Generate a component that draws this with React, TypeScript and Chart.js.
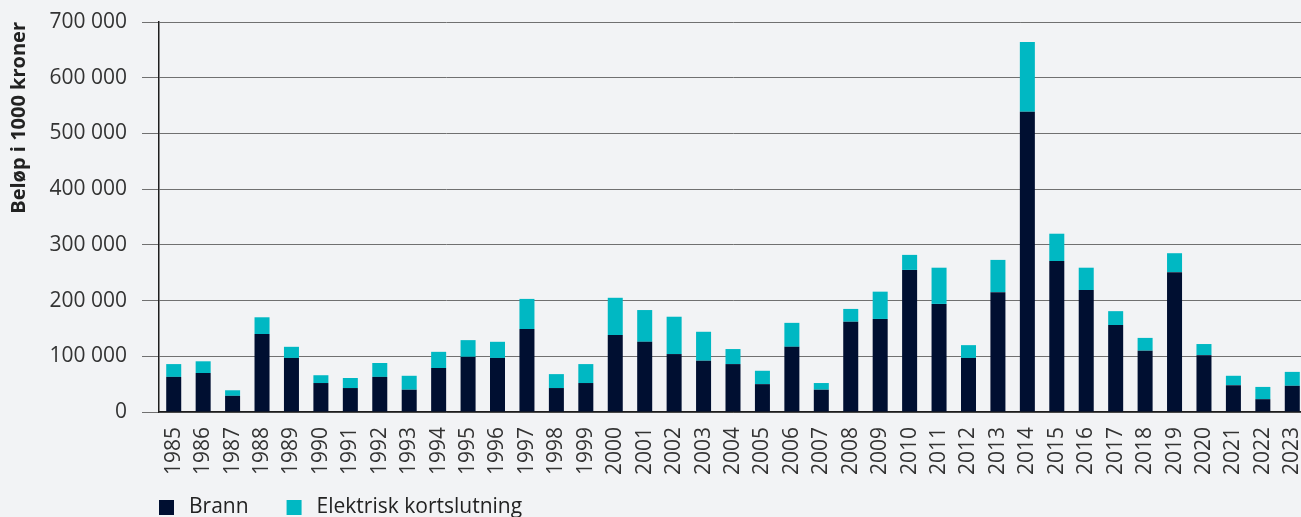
import React, { useEffect, useRef } from "react";
import { Chart, registerables } from "chart.js";

Chart.register(...registerables);

const years = [
  "1985", "1986", "1987", "1988", "1989", "1990", "1991", "1992", "1993", "1994",
  "1995", "1996", "1997", "1998", "1999", "2000", "2001", "2002", "2003", "2004",
  "2005", "2006", "2007", "2008", "2009", "2010", "2011", "2012", "2013", "2014",
  "2015", "2016", "2017", "2018", "2019", "2020", "2021", "2022", "2023",
];

// Beløp i 1000 kroner
const brann = [
  63000, 70000, 29000, 140000, 97000, 52000, 43000, 63000, 40000, 79000,
  99000, 97000, 149000, 43000, 52000, 138000, 126000, 104000, 92000, 86000,
  50000, 117000, 40000, 162000, 167000, 255000, 194000, 97000, 215000, 539000,
  271000, 219000, 156000, 110000, 251000, 102000, 48000, 23000, 47000,
];

const elektriskKortslutning = [
  23000, 21000, 10000, 30000, 20000, 14000, 18000, 25000, 25000, 29000,
  30000, 29000, 54000, 25000, 34000, 67000, 57000, 67000, 52000, 27000,
  24000, 43000, 12000, 23000, 49000, 27000, 65000, 23000, 58000, 125000,
  49000, 40000, 25000, 23000, 34000, 20000, 17000, 22000, 25000,
];

const seriesLabels = ["Brann", "Elektrisk kortslutning"];
const yTitle = "Beløp i 1000 kroner";
const yMin = 0;
const yMax = 700000;
const yStep = 100000;

const FONT = "'Open Sans', 'Noto Sans', sans-serif";

const formatThousands = (v: number) =>
  String(v).replace(/\B(?=(\d{3})+(?!\d))/g, " ");

const legendPlugin = {
  id: "customLegend",
  afterDraw(chart: any) {
    const ctx = chart.ctx;
    let x = chart.chartArea.left;
    const y = 500;
    ctx.save();
    ctx.font = `21px ${FONT}`;
    ctx.textBaseline = "middle";
    ctx.textAlign = "left";
    chart.data.datasets.forEach((ds: any) => {
      ctx.fillStyle = ds.backgroundColor;
      ctx.fillRect(x, y, 15, 15);
      ctx.fillStyle = "#222";
      ctx.fillText(ds.label, x + 30, y + 7.5);
      x += 30 + ctx.measureText(ds.label).width + 38;
    });
    ctx.restore();
  },
};

export default function App() {
  const ref = useRef<HTMLCanvasElement | null>(null);

  useEffect(() => {
    if (!ref.current) return;
    Chart.defaults.font.family = FONT;
    const chart = new Chart(ref.current, {
      type: "bar",
      data: {
        labels: years,
        datasets: [
          {
            label: seriesLabels[0],
            data: brann,
            backgroundColor: "#000f31",
            borderWidth: 0,
            barPercentage: 0.51,
            categoryPercentage: 1,
          },
          {
            label: seriesLabels[1],
            data: elektriskKortslutning,
            backgroundColor: "#00b8c3",
            borderWidth: 0,
            barPercentage: 0.51,
            categoryPercentage: 1,
          },
        ],
      },
      options: {
        animation: false,
        responsive: false,
        maintainAspectRatio: false,
        layout: { padding: { top: 22, right: 3, bottom: 0, left: 0 } },
        plugins: {
          legend: { display: false },
          tooltip: { enabled: false },
        },
        scales: {
          x: {
            stacked: true,
            grid: { display: false, drawTicks: false },
            border: { display: true, color: "#1e1e1e", width: 1.5 },
            ticks: {
              autoSkip: false,
              minRotation: 90,
              maxRotation: 90,
              padding: 15,
              color: "#333",
              font: { size: 21 },
            },
            afterFit: (s: any) => {
              s.height = 105;
              s.paddingLeft = 0;
              s.paddingRight = 0;
            },
          },
          y: {
            stacked: true,
            min: yMin,
            max: yMax,
            ticks: {
              stepSize: yStep,
              padding: 15,
              color: "#333",
              font: { size: 21 },
              callback: (v: any) => formatThousands(Number(v)),
            },
            grid: {
              color: "#707070",
              lineWidth: 1,
              tickLength: 17,
              drawTicks: true,
            },
            border: { display: true, color: "#1e1e1e", width: 1.5 },
            title: {
              display: true,
              text: yTitle,
              align: "end",
              color: "#222",
              font: { size: 20, weight: "bold" },
              padding: { top: 7, bottom: 0 },
            },
            afterFit: (s: any) => {
              s.width = 159;
              s.paddingTop = 0;
              s.paddingBottom = 0;
            },
          },
        },
      },
      plugins: [legendPlugin],
    });
    return () => chart.destroy();
  }, []);

  return (
    <div
      style={{
        position: "fixed",
        left: 0,
        top: 0,
        width: 1301,
        height: 517,
        overflow: "hidden",
        background: "#f2f3f5",
      }}
    >
      <canvas ref={ref} width={1310} height={517} style={{ display: "block" }} />
    </div>
  );
}
